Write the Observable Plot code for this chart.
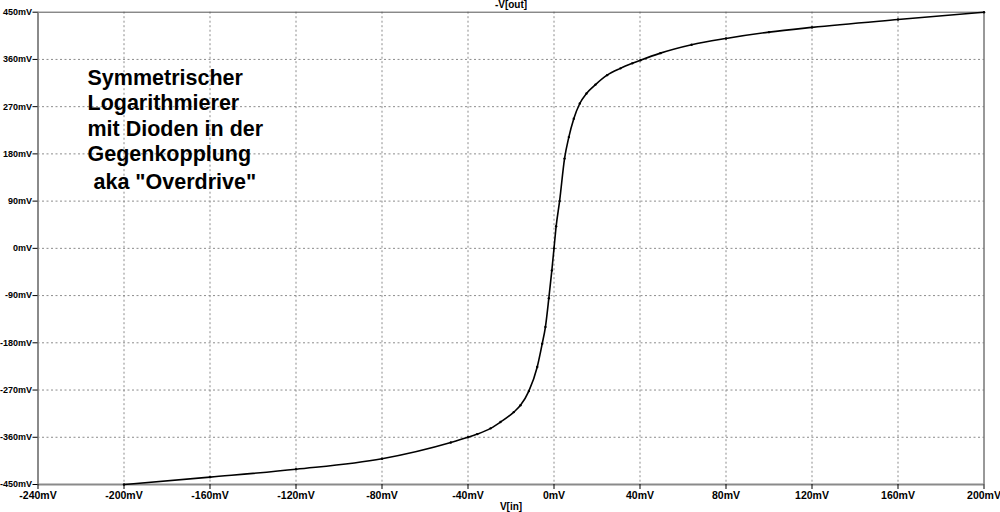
<!DOCTYPE html>
<html>
<head>
<meta charset="utf-8">
<script src="https://cdn.jsdelivr.net/npm/d3@7"></script>
<script src="https://cdn.jsdelivr.net/npm/@observablehq/plot@0.6"></script>
<style>
  html, body { margin: 0; padding: 0; background: #fff; }
  #chart { width: 1000px; height: 512px; }
</style>
</head>
<body>
<div id="chart"></div>
<script>
// Sweep: input voltage (mV) and inverted output -V[out] (mV)
const vin  = [-200, -160, -120, -80, -48, -40, -35.7, -29.5, -24.9, -18.7, -15.6, -11.7, -7.8, -5.5, -4, -2.4, -1, 0, 1, 2.6, 4.9, 6.9, 9.2, 12, 15.1, 19.3, 24.7, 30.9, 36.4, 40.2, 49.5, 64, 80, 100, 120, 160, 200];
const vout = [-450, -436, -421, -401, -370, -360, -354, -343, -331, -312, -299, -272, -226, -182, -150, -95, -42, 0, 42, 90, 171, 212, 247, 276, 295, 312, 330, 343, 352.5, 358.5, 372, 388, 400, 412, 421, 436, 450];

const xTicks = [-240, -200, -160, -120, -80, -40, 0, 40, 80, 120, 160, 200];
const yTicks = [-450, -360, -270, -180, -90, 0, 90, 180, 270, 360, 450];
const xGrid = [-200, -160, -120, -80, -40, 0, 40, 80, 120, 160];
const yGrid = [-360, -270, -180, -90, 0, 90, 180, 270, 360];

const xLabel = "V[in]";
const yLabel = "-V[out]";
const noteLines = ["Symmetrischer", "Logarithmierer", "mit Dioden in der", "Gegenkopplung"];
const noteLast = " aka \"Overdrive\"";

const data = vin.map((v, i) => ({vin: v, vout: vout[i]}));
const fmt = d => d + "mV";
const font = "'Liberation Sans', Arial, sans-serif";

const chart = Plot.plot({
  width: 1000,
  height: 512,
  marginLeft: 37.5,
  marginRight: 16.5,
  marginTop: 11.7,
  marginBottom: 28,
  style: {
    fontFamily: font,
    fontSize: "10px",
    fontWeight: "bold",
    background: "#fff",
    color: "#000"
  },
  x: {domain: [-240, 200]},
  y: {domain: [-450, 450]},
  marks: [
    Plot.gridX(xGrid, {stroke: "#8c8c8c", strokeOpacity: 1, strokeDasharray: "2,2.5"}),
    Plot.gridY(yGrid, {stroke: "#8c8c8c", strokeOpacity: 1, strokeDasharray: "2,2.5"}),
    Plot.ruleY([yTicks[yTicks.length - 1]], {stroke: "#555", strokeWidth: 1}),
    Plot.ruleX([xTicks[xTicks.length - 1]], {stroke: "#333", strokeWidth: 1}),
    Plot.ruleX([xTicks[0]], {stroke: "#8a8a8a", strokeWidth: 2}),
    Plot.ruleY([yTicks[0]], {stroke: "#8a8a8a", strokeWidth: 2}),
    Plot.axisX({ticks: xTicks, tickFormat: fmt, tickSize: 5, tickPadding: 2, label: null, fontSize: 10.5}),
    Plot.axisY({ticks: yTicks, tickFormat: fmt, tickSize: 5, tickPadding: 1, label: null, fontSize: 9}),
    Plot.line(data, {x: "vin", y: "vout", stroke: "#000", strokeWidth: 1.6, curve: "monotone-x"}),
    Plot.dot(data, {x: "vin", y: "vout", r: 1.2, fill: "#000", stroke: null}),
    Plot.text([yLabel], {frameAnchor: "top", lineAnchor: "middle", dy: -7, fontSize: 10, fontWeight: "bold"}),
    Plot.text([xLabel], {frameAnchor: "bottom", lineAnchor: "middle", dy: 22, fontSize: 10, fontWeight: "bold"}),
    Plot.text([noteLines.join("\n")], {frameAnchor: "top-left", lineAnchor: "top", textAnchor: "start", dx: 49.5, dy: 55, fontSize: 21.5, fontWeight: "bold", lineHeight: 1.177, fontFamily: font}),
    Plot.text([noteLast], {frameAnchor: "top-left", lineAnchor: "top", textAnchor: "start", dx: 49.5, dy: 161.5, fontSize: 21.5, fontWeight: "bold", fontFamily: font})
  ]
});
chart.querySelectorAll("text").forEach(t => t.setAttribute("xml:space", "preserve"));
chart.querySelectorAll("text").forEach(t => t.style.whiteSpace = "pre");
document.getElementById("chart").appendChild(chart);
</script>
</body>
</html>
